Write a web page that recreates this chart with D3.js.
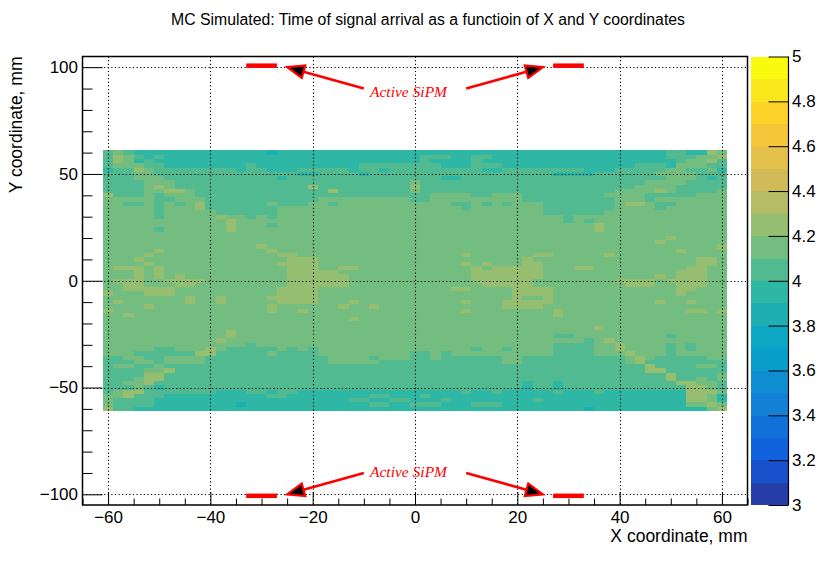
<!DOCTYPE html>
<html>
<head>
<meta charset="utf-8">
<script src="https://cdn.jsdelivr.net/npm/d3@7"></script>
<style>
  body { margin: 0; background: #fff; }
  svg { display: block; font-family: "Liberation Sans", Arial, Helvetica, sans-serif; }
</style>
</head>
<body>
<svg id="chart" width="830" height="561"></svg>
<script>
// ---- data ----
const title = "MC Simulated: Time of signal arrival as a functioin of X and Y coordinates";
const xTitle = "X coordinate, mm";
const yTitle = "Y coordinate, mm";

const xRange = [-65, 65];
const yRange = [-105, 105];
const zRange = [3, 5];

const xTicks = [-60, -40, -20, 0, 20, 40, 60];
const xMinorTicks = [-65, -55, -50, -45, -35, -30, -25, -15, -10, -5, 5, 10, 15, 25, 30, 35, 45, 50, 55, 65];
const yTicks = [-100, -50, 0, 50, 100];
const yMinorTicks = [-90, -80, -70, -60, -40, -30, -20, -10, 10, 20, 30, 40, 60, 70, 80, 90];
const zTicks = [3, 3.2, 3.4, 3.6, 3.8, 4, 4.2, 4.4, 4.6, 4.8, 5];
const zEdges = [3, 3.1, 3.2, 3.3, 3.4, 3.5, 3.6, 3.7, 3.8, 3.9, 4, 4.1, 4.2, 4.3, 4.4, 4.5, 4.6, 4.7, 4.8, 4.9, 5];

// histogram binning: 61 x 61 bins of 2 mm, from -61 to 61
const binLowX = -61;
const binHighY = 61;
const binSize = 2;

// cell contents, one char per bin (row 0 = top, y from 61 down to -61)
const cellValue = { "8": 3.85, "9": 3.95, "a": 4.05, "b": 4.15, "c": 4.25 };
const cellRows = [
  "aba9999999 9999998999 9999999999 9999999999 9999999999 99999aa99c b",
  "acba9a9999 9999999999 9999999999 9aaa99aa99 9999999999 99999aaabb c",
  "acb9a99999 9999999999 9999999999 9a9999a999 9999999999 999999abbc a",
  "abbbaa9999 9999a99999 99999aaaaa aaa999aaa9 9999999999 99aaa9bbba a",
  "9aacbaaaaa aaa9aa999a aaaa9aa9aa aaaaaaa99a aaaaaaa999 aaaaabbaab 9",
  "aaabbaaaaa aaaaaaaaa9 9aaaa9aaaa aaaaaaaaaa aaaa9999aa aaaabbbbaa a",
  "aaabbbaaaa aaaaaaa9aa aaaaaaaaaa aaa99aaaaa aaaaaaaaaa aaaaabbba9 a",
  "aaaabbbaaa aaaaaaaaaa aaaaaaaaaa baaaaaaaaa aaaaaaaaaa aaabbbbaaa a",
  "aaaabcbaaa aaaaaaaaaa caaaaaaaaa caaaaaaaaa aaaaaaaaaa aabbbbaaaa a",
  "aaaabbccba aaaaaaaaaa aacaaaaaaa baaaaaaaaa aaaaaaaaaa bbbbcbaaaa b",
  "caaababbba aaaaaaaaaa aaaaaaaaaa aabbbbaabb baaaaaaaab bbbaaaaabb b",
  "bbbbbaabbb aaaaaaaaaa abbbbbbbbb aabbbbbbbb baaaaaaaaa bbbabbbbbb b",
  "bbaabababc aaaaaabaaa bbabbbbbbb bbbbaababa bbbaaaaaaa bccbaabbbb b",
  "bbbbbabbbc aaaaaaabbb bbbbbbbbbb bbbbbabbbb bbbaaaaaaa bbbbabbbbb b",
  "bbbbbabbbb baaaaaabbb bbbbbbbbbb bbbbbbbbbb bbbaaaaaab bbbbbbbbbb b",
  "bbbbbabbbb bcbbababbb bbbbbbbbbb bbbbbbbbbb bbbbbabbbb bbbbbbbbbb b",
  "bbbbbbbbbb bbcbbbbbbb bbbbbbbbbb bbbbbbbbbb bbbbbababb bbbbbbbbbb b",
  "bbbbbbbbbb bbcbbbabbb bbbbbbbbbb bbbbbbbbbb bbbbbbbbcb bbbbbbbbbb b",
  "bbbbbabbbb bbcbbbbbbb bbbbbbbbbb bbbbbbbbbb bbbbbbbbcb bbbbbbbbbb b",
  "bbbbbbbbbb bbbbbbbbbb bbbbbbbbbb bbbbbbbbbb bbbbbbbbbb bbbbbbbbbb b",
  "bbbbbbbbbb bbbbbbbbbb bbbbbbbbbb bbbbbbbbbb bbbbbbbbbb bbbbbcbbbb b",
  "bbbbbbbbbb bbbbbbbbbb bbbbbbbbbb bbbbbbbbbb bbbbbbbbbb bbbbcbbbbb b",
  "bbbbbbbbbb bbbbbcbbbb bbbbbbbbbb bbbbbbbbbb bbbbbbbbbb bbbbbbbbbb c",
  "bbbbbcbbbb bbbbbbcbbb bbbbbbbbbb bbbbbbbbbb bbbbbbbbbb bbbbbbcbbb b",
  "bbbbcbbbbb bbbbbbbccb bbbbbbbbbb bbbbbcbbbb bbccbbbbbc bbbbbbbbbb b",
  "bbbcbbbbbb bbbbbbbbcc cbbbbbbbbb bbbbbbbbbb bcbbbbbbbb bbbbbbbbcc b",
  "bbbbcbbbbb bbbbbbbccc cbbbbbbbbb bbbbbcbcbb bccbbbbbbb bbbbbbbbcc b",
  "bcccbcbbbb bbbbbbbbcc cbbccbbbbb bbbbbbcbcc cccbbbccbb bbbbbbbccb b",
  "bbbcbcbbbb bbbbbbbbcc cccbbbbbbb bbbbbbcccc cccbbbbbbb bbbbbbcccb b",
  "bbbcbcbcbb bbbbbbbbcc ccccbbbbbb bbbbbbcccc cccbbbbbbb bbbbcbcccb b",
  "bcccbbcccc bbbbbbbbcc ccccbbbbbb bbbbbbcccc ccbbbbbbbb ccccbccccb b",
  "bbccbbbccb bbbbbbbbcc ccccbbbbbb bbbbbbbccc ccbbbbbbbb bcccbbcccb b",
  "bbcccccbbb bbbbbbbccc cbbbbbbbbb bbbbccbbbb ccccbbbbbb bbbbbbccbb b",
  "cbbbcccbbb bbbbbbbccc cbbbbbbbbb bbbbbbbbbb ccccbbbbbb bbbbbbcbbb b",
  "bbbbbbbbcb bcbbbbcccc cbbbbbbbbb bbbbbbbbbb cbbcbbbbbb bbbbbbbbbb b",
  "bcbbbbbbcb bcbbbbbccc cbbbcbbbbb bbbbbcbbbc ccccbbbbbb bbbbcbbcbb b",
  "bbbbcbbbbb bbbbbbcbbb bbbcbbcbbb bbbbbbbbbc cccbbbbbbb bbbbbbbbbb b",
  "cbbbbbbbbb bbbbbbcbbc bbbbbbbbbb bbbbbcbbbb bbbbcbbbbb bbbbbbbccb c",
  "bbcbbbbbbb bbbbbbbbbb bbbbbbbbbb bbbbbbbbbb bbbbcbbbbb bbbbbbbbbb b",
  "bbbbbbbbbb bbbbbbbbbb bbbbcbbbbb bbbbbbbbbb bbbbbbbbbb bbbbbbbbbb b",
  "bbbbbbbbbb bbbbbbbbbb bbbbbbbbbb bbbbbbbbbb bbbbbbbbbb bbbbbbbbbb b",
  "bbbbbbbbbb bbbbbbbbbb bbbbbbbbbb bbbbbbbbbb bbbbbbbbcb bbbbbbbbbb b",
  "bbbbbbbbbb bbcbbbbbbb bbbbbbbbbb bbbbbbbbbb bbbbbbbbbb bbbbbbbbbb b",
  "bbbbbbbbbb bbcbbbbbbb bbbbbbbbbb bbbbbbbbbb bbbbaabbbb bbbbbabbbb b",
  "bbbbbbbbbb bcbbbbbbbb bbbbbbbbbb bbbbbbbbbb bbbbbbbabc bbbbbbbbbb b",
  "bbbbbbbbbb bbbbabbbbb bbbbbbbbbb bbbbbbbbbb bbbbaaaabb cbbbbababb b",
  "bbbbbaabbb cbaaaaabab abbbbbbbbb bbbbbbabba bbbbaaaabb cbbbbababb b",
  "bbbaaaaaac caaaaabaaa abbbbbbbbb aababbbbbb bbbbaaaabb bcbbbabbbb b",
  "aabbaabbbb aaaaaaaaaa aabbbbabbb aabaaaaaab baaaaaaaaa abcbaaaaab b",
  "aaabbabbbb aaaaaaaaaa aabbbbbaaa aaaaaaaaab baaaaaaaaa abcaaaaaaa a",
  "abbaabaaaa aaaaaaaaaa aaaaaaaaaa aaaaaaaaaa aaaaaaaaaa aaacaaaabb a",
  "aaaabbcaaa aaaaaaaaaa aaaaaaaaaa aaaaaaaaaa aaaaaaaaaa aaaccaaaaa a",
  "aaaaccaaaa aaaaaaaaaa aaaaaaaaaa aaaaaaaaaa aaaaaaaaaa aaaaacaaaa b",
  "aaabccaaaa aaaaaaaaaa aaaaaaaaaa aaaaaaaaaa aaaaaaaaaa aaaaacaaba b",
  "aabbcaaaaa aaaaaaaaaa aaaaaaaaaa aaaaaaaaaa a9aa9aaaaa aaaaaaccbb a",
  "aaaba9aaaa aaaaaaaaaa aaaaaaaaaa aaaaaaaaaa a9aa9aaaaa aaaaaaaccb a",
  "abccaaaaaa a999aa9aa9 9999999999 99999a99a9 9999a999a9 9999999ccc b",
  "bbcaaa9999 999999aa99 999999aa99 9a99999999 9999999999 9999999ccb 9",
  "baaaa99999 9999999999 9999aa99aa 999a999999 99a9999999 9999999ccb 9",
  "baaaa99999 9998999999 999999aa99 aaa999aaa9 9999999999 9999999bbc b",
  "caa9999999 9999999999 9999999999 9999999999 9999999899 999999999b c"
];

// annotations (mm)
const sipmBars = [
  { x0: -33, x1: -27, y: 100.7 }, { x0: 27, x1: 33, y: 100.7 },
  { x0: -33, x1: -27, y: -100.7 }, { x0: 27, x1: 33, y: -100.7 }
];
const arrows = [
  { x0: -10, y0: 90, x1: -25, y1: 100 }, { x0: 10, y0: 90, x1: 25, y1: 100 },
  { x0: -10, y0: -90, x1: -25, y1: -100 }, { x0: 10, y0: -90, x1: 25, y1: -100 }
];
const notes = [
  { x: -8.8, y: 86.2, text: "Active SiPM" },
  { x: -8.8, y: -92, text: "Active SiPM" }
];

// ROOT kBird palette
const birdStops = [0, 0.125, 0.25, 0.375, 0.5, 0.625, 0.75, 0.875, 1];
const birdRed = [0.2082, 0.0592, 0.0780, 0.0232, 0.1802, 0.5301, 0.8186, 0.9956, 0.9764];
const birdGreen = [0.1664, 0.3599, 0.5041, 0.6419, 0.7178, 0.7492, 0.7328, 0.7862, 0.9832];
const birdBlue = [0.5293, 0.8684, 0.8385, 0.7914, 0.6425, 0.4662, 0.3499, 0.1968, 0.0539];

// ---- drawing ----
const svg = d3.select("#chart");
const frame = { left: 82.5, right: 747.5, top: 56.5, bottom: 505 };
const bar = { left: 751, right: 788.5 };

const x = d3.scaleLinear().domain(xRange).range([frame.left, frame.right]);
const y = d3.scaleLinear().domain(yRange).range([frame.bottom, frame.top]);
const z = d3.scaleLinear().domain(zRange).range([frame.bottom, frame.top]);

const bird = d3.scaleLinear()
  .domain(birdStops)
  .range(birdStops.map((s, i) => d3.rgb(birdRed[i] * 255, birdGreen[i] * 255, birdBlue[i] * 255)))
  .interpolate(d3.interpolateRgb);
const nLevels = zEdges.length - 1;
const levelColor = (i) => bird(Math.floor((i + 0.99) * 255 / nLevels) / 254);
const valueColor = (v) => {
  const i = Math.max(0, Math.min(nLevels - 1, d3.bisectRight(zEdges, v) - 1));
  return levelColor(i);
};

svg.append("rect").attr("width", 830).attr("height", 561).attr("fill", "#fff");

// histogram cells
const cells = [];
cellRows.forEach((row, r) => {
  [...row.replace(/ /g, "")].forEach((ch, c) => {
    cells.push({ xl: binLowX + c * binSize, yt: binHighY - r * binSize, v: cellValue[ch] });
  });
});

svg.append("g")
  .attr("shape-rendering", "crispEdges")
  .selectAll("rect")
  .data(cells)
  .join("rect")
  .attr("x", (d) => x(d.xl))
  .attr("y", (d) => y(d.yt))
  .attr("width", (d) => x(d.xl + binSize) - x(d.xl) + 0.3)
  .attr("height", (d) => y(d.yt - binSize) - y(d.yt) + 0.3)
  .attr("fill", (d) => valueColor(d.v));

// grid
const grid = svg.append("g")
  .attr("stroke", "#000")
  .attr("stroke-width", 1.1)
  .attr("stroke-dasharray", "1.2,2.4");
grid.selectAll(".gx")
  .data(xTicks)
  .join("line")
  .attr("x1", (d) => Math.round(x(d)) + 0.5)
  .attr("x2", (d) => Math.round(x(d)) + 0.5)
  .attr("y1", frame.top)
  .attr("y2", frame.bottom);
grid.selectAll(".gy")
  .data(yTicks)
  .join("line")
  .attr("class", "gy")
  .attr("x1", frame.left)
  .attr("x2", frame.right)
  .attr("y1", (d) => Math.round(y(d)) + 0.5)
  .attr("y2", (d) => Math.round(y(d)) + 0.5);

// axes
const styleAxis = (g, size) => {
  g.select(".domain").remove();
  g.attr("font-family", null).attr("font-size", null).attr("color", "#000");
  g.selectAll("text").attr("font-size", size).attr("fill", "#000");
};

svg.append("g")
  .attr("transform", `translate(0,${frame.bottom})`)
  .call(d3.axisBottom(x).tickValues(xMinorTicks).tickSizeInner(-6.5).tickSizeOuter(0).tickFormat(""))
  .call((g) => styleAxis(g, 17));
svg.append("g")
  .attr("transform", `translate(0,${frame.bottom})`)
  .call(d3.axisBottom(x).tickValues(xTicks).tickSizeInner(-13).tickSizeOuter(0).tickPadding(6))
  .call((g) => styleAxis(g, 17));

svg.append("g")
  .attr("transform", `translate(${frame.left},0)`)
  .call(d3.axisLeft(y).tickValues(yMinorTicks).tickSizeInner(-10).tickSizeOuter(0).tickFormat(""))
  .call((g) => styleAxis(g, 17));
svg.append("g")
  .attr("transform", `translate(${frame.left},0)`)
  .call(d3.axisLeft(y).tickValues(yTicks).tickSizeInner(-20).tickSizeOuter(0).tickPadding(4.5))
  .call((g) => styleAxis(g, 17));

// frame
svg.append("rect")
  .attr("x", frame.left)
  .attr("y", frame.top)
  .attr("width", frame.right - frame.left)
  .attr("height", frame.bottom - frame.top)
  .attr("fill", "none")
  .attr("stroke", "#000")
  .attr("stroke-width", 1.5);

// palette
svg.append("g")
  .attr("shape-rendering", "crispEdges")
  .selectAll("rect")
  .data(d3.range(nLevels))
  .join("rect")
  .attr("x", bar.left)
  .attr("width", bar.right - bar.left)
  .attr("y", (i) => z(zEdges[i + 1]))
  .attr("height", (i) => z(zEdges[i]) - z(zEdges[i + 1]) + 0.3)
  .attr("fill", (i) => levelColor(i));

svg.append("g")
  .attr("transform", `translate(${bar.right},0)`)
  .call(d3.axisRight(z).tickValues(zTicks).tickSizeInner(-20).tickSizeOuter(0).tickPadding(3.5).tickFormat(d3.format("")))
  .call((g) => styleAxis(g, 17));
svg.append("line")
  .attr("x1", bar.right).attr("x2", bar.right)
  .attr("y1", frame.top).attr("y2", frame.bottom)
  .attr("stroke", "#000").attr("stroke-width", 1.2);

// titles
svg.append("text")
  .attr("x", 428)
  .attr("y", 24.5)
  .attr("text-anchor", "middle")
  .attr("font-size", 15.8)
  .text(title);
svg.append("text")
  .attr("x", frame.right)
  .attr("y", 542)
  .attr("text-anchor", "end")
  .attr("font-size", 17.5)
  .text(xTitle);
svg.append("text")
  .attr("transform", `translate(22,${frame.top}) rotate(-90)`)
  .attr("text-anchor", "end")
  .attr("font-size", 17.5)
  .text(yTitle);

// annotations
svg.append("g")
  .selectAll("line")
  .data(sipmBars)
  .join("line")
  .attr("x1", (d) => x(d.x0))
  .attr("x2", (d) => x(d.x1))
  .attr("y1", (d) => y(d.y))
  .attr("y2", (d) => y(d.y))
  .attr("stroke", "#ff0000")
  .attr("stroke-width", 4.5);

const arrowG = svg.append("g");
arrows.forEach((a) => {
  const tx = x(a.x0), ty = y(a.y0), hx = x(a.x1), hy = y(a.y1);
  const len = Math.hypot(hx - tx, hy - ty);
  const ux = (hx - tx) / len, uy = (hy - ty) / len;
  const headLen = 17, headHalf = 6.5;
  const bx = hx - ux * headLen, by = hy - uy * headLen;
  arrowG.append("line")
    .attr("x1", tx).attr("y1", ty).attr("x2", bx).attr("y2", by)
    .attr("stroke", "#ff0000").attr("stroke-width", 2.6);
  arrowG.append("path")
    .attr("d", `M${hx},${hy}L${bx - uy * headHalf},${by + ux * headHalf}L${bx + uy * headHalf},${by - ux * headHalf}Z`)
    .attr("fill", "#000")
    .attr("stroke", "#ff0000")
    .attr("stroke-width", 2.2)
    .attr("stroke-linejoin", "miter");
});

svg.append("g")
  .selectAll("text")
  .data(notes)
  .join("text")
  .attr("x", (d) => x(d.x))
  .attr("y", (d) => y(d.y))
  .attr("font-family", "'Liberation Serif', 'Times New Roman', serif")
  .attr("font-style", "italic")
  .attr("font-size", 15.5)
  .attr("fill", "#ff0000")
  .text((d) => d.text);
</script>
</body>
</html>
